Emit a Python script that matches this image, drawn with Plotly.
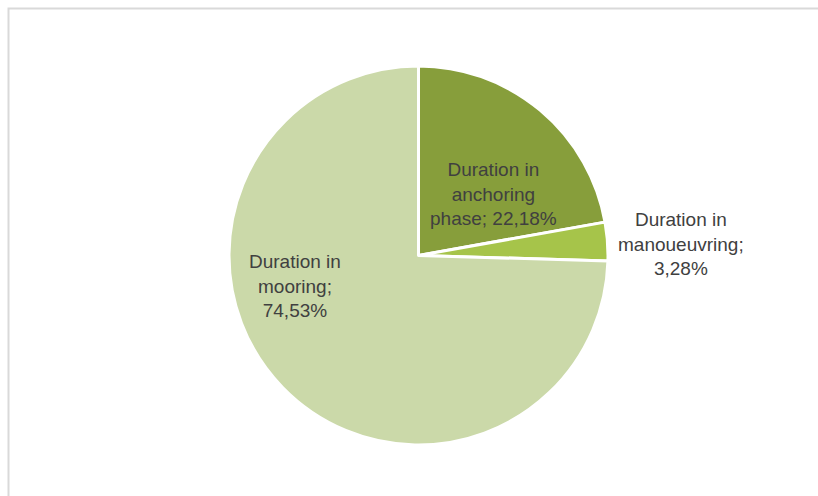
import plotly.graph_objects as go

W, H = 818, 496

# Data
categories = ["Duration in anchoring phase", "Duration in manoueuvring", "Duration in mooring"]
values = [22.18, 3.28, 74.53]
label_texts = ["Duration in<br>anchoring<br>phase; {v}%", "Duration in<br>manoueuvring;<br>{v}%", "Duration in<br>mooring;<br>{v}%"]
colors = ["#879e3b", "#a6c44a", "#cbd9a9"]

# Label positions (pixels) for each category label
label_px = [(494, 194), (681, 244), (295, 286)]

cx, cy, r = 418.5, 255.5, 189.5

fig = go.Figure(go.Pie(
    labels=categories,
    values=values,
    sort=False,
    direction="clockwise",
    rotation=0,
    marker=dict(colors=colors, line=dict(color="white", width=3)),
    textinfo="none",
    hoverinfo="label+percent",
    showlegend=False,
    domain=dict(x=[(cx - r) / W, (cx + r) / W], y=[(H - cy - r) / H, (H - cy + r) / H]),
))

annotations = []
for t, v, (px, py) in zip(label_texts, values, label_px):
    annotations.append(dict(
        text=t.format(v=f"{v:.2f}".replace(".", ",")),
        x=px / W, y=1 - py / H, xref="paper", yref="paper",
        showarrow=False, xanchor="center", yanchor="middle",
        font=dict(family="Liberation Sans, Arial", size=19, color="#404040"),
        align="center",
    ))

fig.update_layout(
    width=W, height=H,
    margin=dict(l=0, r=0, t=0, b=0),
    paper_bgcolor="white", plot_bgcolor="white",
    annotations=annotations,
    shapes=[dict(type="rect", xref="paper", yref="paper",
                 x0=8.5 / W, x1=1.2, y0=-0.2, y1=1 - 8.5 / H,
                 line=dict(color="#d9d9d9", width=2), layer="below")],
)

fig.write_html("out.html")
